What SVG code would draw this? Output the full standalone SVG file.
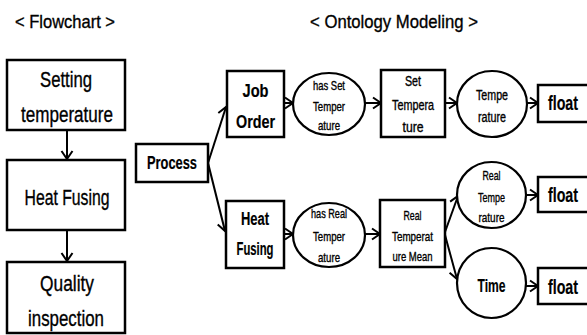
<svg xmlns="http://www.w3.org/2000/svg" width="587" height="335" viewBox="0 0 587 335">
<defs>
<style>
text{font-family:"Liberation Sans",Arial,sans-serif;fill:#000;text-anchor:middle;stroke:#000;stroke-width:0.35}
.b{font-weight:bold;stroke-width:0.2}
.box{fill:#fff;stroke:#000;stroke-width:2.5}
.ell{fill:#fff;stroke:#000;stroke-width:2.2}
.ln{fill:none;stroke:#000;stroke-width:2}
</style>
<marker id="ah" markerUnits="userSpaceOnUse" markerWidth="14" markerHeight="14" refX="10" refY="7" orient="auto">
<polyline points="2,1.5 10,7 2,12.5" fill="none" stroke="#000" stroke-width="2"/>
</marker>
</defs>
<rect width="587" height="335" fill="#fff"/>
<text x="65" y="28" font-size="19" textLength="100" lengthAdjust="spacingAndGlyphs">&lt; Flowchart &gt;</text>
<text x="394" y="28" font-size="19" textLength="168" lengthAdjust="spacingAndGlyphs">&lt; Ontology Modeling &gt;</text>
<g id="connectors">
<line class="ln" x1="67" y1="130" x2="67" y2="159" marker-end="url(#ah)"/>
<line class="ln" x1="67" y1="230" x2="67" y2="261" marker-end="url(#ah)"/>
<line class="ln" x1="208" y1="163" x2="226" y2="107" marker-end="url(#ah)"/>
<line class="ln" x1="208" y1="163" x2="225" y2="231" marker-end="url(#ah)"/>
<line class="ln" x1="284" y1="103" x2="293" y2="103" marker-end="url(#ah)"/>
<line class="ln" x1="365" y1="103" x2="381" y2="103" marker-end="url(#ah)"/>
<line class="ln" x1="445" y1="103" x2="457" y2="103" marker-end="url(#ah)"/>
<line class="ln" x1="527" y1="103" x2="538" y2="103" marker-end="url(#ah)"/>
<line class="ln" x1="284" y1="234" x2="293" y2="234" marker-end="url(#ah)"/>
<line class="ln" x1="365" y1="234" x2="380" y2="234" marker-end="url(#ah)"/>
<line class="ln" x1="445" y1="232" x2="458" y2="196" marker-end="url(#ah)"/>
<line class="ln" x1="445" y1="235" x2="457" y2="279" marker-end="url(#ah)"/>
<line class="ln" x1="526" y1="195" x2="538" y2="195" marker-end="url(#ah)"/>
<line class="ln" x1="526" y1="286" x2="538" y2="286" marker-end="url(#ah)"/>
</g>
<g id="setting-temperature">
<rect class="box" x="7" y="60" width="118" height="70"/>
<text x="66" y="87" font-size="22" textLength="52" lengthAdjust="spacingAndGlyphs">Setting</text>
<text x="67" y="122" font-size="22" textLength="92" lengthAdjust="spacingAndGlyphs">temperature</text>
</g>
<g id="heat-fusing-flow">
<rect class="box" x="7" y="160" width="118" height="70"/>
<text x="67" y="205" font-size="22" textLength="85" lengthAdjust="spacingAndGlyphs">Heat Fusing</text>
</g>
<g id="quality-inspection">
<rect class="box" x="7" y="262" width="118" height="71"/>
<text x="67" y="291" font-size="22" textLength="54" lengthAdjust="spacingAndGlyphs">Quality</text>
<text x="66" y="326" font-size="22" textLength="76" lengthAdjust="spacingAndGlyphs">inspection</text>
</g>
<g id="process">
<rect class="box" x="136" y="144" width="72" height="38"/>
<text class="b" x="172" y="169" font-size="18" textLength="50" lengthAdjust="spacingAndGlyphs">Process</text>
</g>
<g id="job-order">
<rect class="box" x="227" y="71" width="57" height="66"/>
<text class="b" x="255.5" y="97" font-size="18" textLength="26" lengthAdjust="spacingAndGlyphs">Job</text>
<text class="b" x="255.5" y="128" font-size="18" textLength="39" lengthAdjust="spacingAndGlyphs">Order</text>
</g>
<g id="has-set-temperature">
<ellipse class="ell" cx="329" cy="104" rx="36" ry="31"/>
<text x="329" y="90" font-size="13" textLength="32" lengthAdjust="spacingAndGlyphs">has Set</text>
<text x="329" y="111" font-size="13" textLength="32" lengthAdjust="spacingAndGlyphs">Temper</text>
<text x="329" y="130" font-size="13" textLength="22" lengthAdjust="spacingAndGlyphs">ature</text>
</g>
<g id="set-temperature">
<rect class="box" x="381" y="70" width="64" height="67"/>
<text x="413" y="86" font-size="14" textLength="16" lengthAdjust="spacingAndGlyphs">Set</text>
<text x="413" y="110" font-size="14" textLength="42" lengthAdjust="spacingAndGlyphs">Tempera</text>
<text x="413" y="132" font-size="14" textLength="21" lengthAdjust="spacingAndGlyphs">ture</text>
</g>
<g id="temperature">
<ellipse class="ell" cx="492" cy="104" rx="35" ry="33"/>
<text x="492" y="100" font-size="14" textLength="32" lengthAdjust="spacingAndGlyphs">Tempe</text>
<text x="492" y="122" font-size="14" textLength="28" lengthAdjust="spacingAndGlyphs">rature</text>
</g>
<g id="float1">
<rect class="box" x="538" y="85" width="55" height="37"/>
<text class="b" x="548" y="110" font-size="21" textLength="30" lengthAdjust="spacingAndGlyphs" style="text-anchor:start">float</text>
</g>
<g id="heat-fusing">
<rect class="box" x="226" y="201" width="58" height="67"/>
<text class="b" x="255" y="225" font-size="18" textLength="28" lengthAdjust="spacingAndGlyphs">Heat</text>
<text class="b" x="255" y="255" font-size="18" textLength="37" lengthAdjust="spacingAndGlyphs">Fusing</text>
</g>
<g id="has-real-temperature">
<ellipse class="ell" cx="329" cy="235" rx="36" ry="32"/>
<text x="329" y="218" font-size="13" textLength="36" lengthAdjust="spacingAndGlyphs">has Real</text>
<text x="329" y="241" font-size="13" textLength="32" lengthAdjust="spacingAndGlyphs">Temper</text>
<text x="329" y="262" font-size="13" textLength="22" lengthAdjust="spacingAndGlyphs">ature</text>
</g>
<g id="real-temperature-mean">
<rect class="box" x="380" y="200" width="65" height="67"/>
<text x="412.5" y="220" font-size="13" textLength="18" lengthAdjust="spacingAndGlyphs">Real</text>
<text x="412.5" y="241" font-size="13" textLength="41" lengthAdjust="spacingAndGlyphs">Temperat</text>
<text x="412.5" y="261" font-size="13" textLength="40" lengthAdjust="spacingAndGlyphs">ure Mean</text>
</g>
<g id="real-temperature">
<ellipse class="ell" cx="491.5" cy="195" rx="34.5" ry="33"/>
<text x="491.5" y="180" font-size="13" textLength="18" lengthAdjust="spacingAndGlyphs">Real</text>
<text x="491.5" y="202" font-size="13" textLength="27" lengthAdjust="spacingAndGlyphs">Tempe</text>
<text x="491.5" y="222" font-size="13" textLength="26" lengthAdjust="spacingAndGlyphs">rature</text>
</g>
<g id="float2">
<rect class="box" x="538" y="177" width="55" height="35"/>
<text class="b" x="548" y="202" font-size="21" textLength="30" lengthAdjust="spacingAndGlyphs" style="text-anchor:start">float</text>
</g>
<g id="time">
<ellipse class="ell" cx="491.5" cy="283" rx="34.5" ry="35"/>
<text class="b" x="491.5" y="292" font-size="19" textLength="28" lengthAdjust="spacingAndGlyphs">Time</text>
</g>
<g id="float3">
<rect class="box" x="538" y="268" width="55" height="36"/>
<text class="b" x="548" y="294" font-size="21" textLength="30" lengthAdjust="spacingAndGlyphs" style="text-anchor:start">float</text>
</g>
</svg>
